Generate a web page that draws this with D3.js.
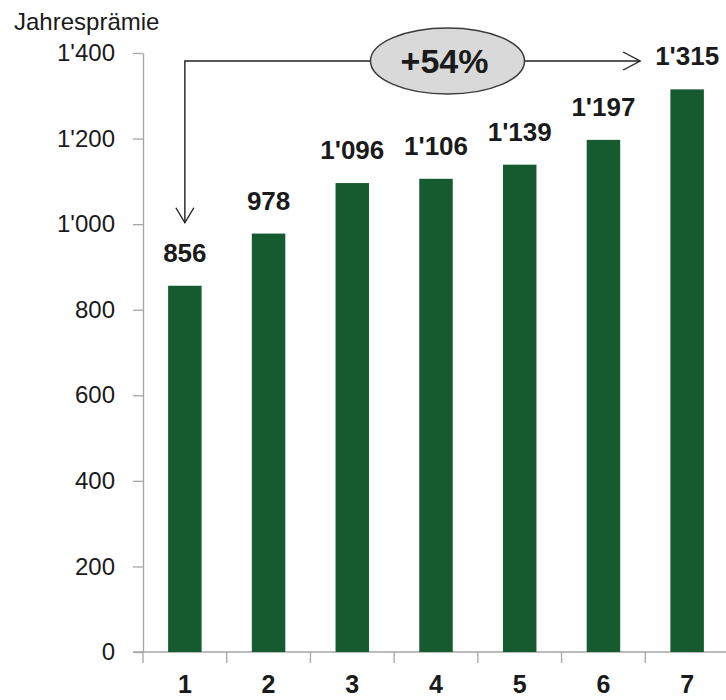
<!DOCTYPE html>
<html>
<head>
<meta charset="utf-8">
<script src="https://cdn.jsdelivr.net/npm/d3@7"></script>
<style>
  html, body { margin: 0; padding: 0; background: #fff; }
  svg { display: block; font-family: "Liberation Sans", Arial, sans-serif; }
</style>
</head>
<body>
<svg id="chart" width="726" height="700"></svg>
<script>
// Annual premium per year index
const categories = ["1", "2", "3", "4", "5", "6", "7"];
const premiums = [856, 978, 1096, 1106, 1139, 1197, 1315];
const yTicks = [0, 200, 400, 600, 800, 1000, 1200, 1400];
const yTitle = "Jahresprämie";
const growthLabel = "+54%";

const svg = d3.select("#chart");
const plotLeft = 143, plotRight = 729, plotTop = 53, plotBottom = 652;

const fmt = v => {
  const s = String(v);
  return s.length > 3 ? s.slice(0, -3) + "'" + s.slice(-3) : s;
};

const x = d3.scaleBand().domain(categories).range([plotLeft, plotRight]).padding(0);
const y = d3.scaleLinear().domain([0, 1400]).range([plotBottom, plotTop]);
const axisColor = "#a6a6a6";

// y axis
const yAxis = svg.append("g")
  .attr("transform", `translate(${plotLeft},0)`)
  .call(d3.axisLeft(y).tickValues(yTicks).tickFormat(fmt).tickSize(10).tickSizeOuter(0).tickPadding(18));
yAxis.select(".domain").attr("stroke", axisColor).attr("stroke-width", 1.3);
yAxis.selectAll(".tick line").attr("stroke", axisColor).attr("stroke-width", 1.3);
yAxis.selectAll(".tick text")
  .attr("fill", "#1a1a1a").attr("font-size", 24).attr("font-family", "Liberation Sans, Arial, sans-serif");

// x axis baseline and category separators
const xg = svg.append("g");
xg.append("line")
  .attr("x1", plotLeft - 10).attr("x2", plotRight)
  .attr("y1", y(0)).attr("y2", y(0))
  .attr("stroke", axisColor).attr("stroke-width", 1.3);
xg.selectAll("line.sep")
  .data(categories)
  .join("line")
  .attr("class", "sep")
  .attr("x1", d => x(d)).attr("x2", d => x(d))
  .attr("y1", y(0)).attr("y2", y(0) + 11)
  .attr("stroke", axisColor).attr("stroke-width", 1.3);
xg.selectAll("text")
  .data(categories)
  .join("text")
  .attr("x", d => x(d) + x.bandwidth() / 2)
  .attr("y", y(0) + 41)
  .attr("text-anchor", "middle")
  .attr("font-size", 25).attr("font-weight", "bold").attr("fill", "#1a1a1a")
  .text(d => d);

// bars
const barW = x.bandwidth() * 0.4;
const data = categories.map((c, i) => ({ c, v: premiums[i] }));
svg.append("g").selectAll("rect")
  .data(data)
  .join("rect")
  .attr("x", d => x(d.c) + (x.bandwidth() - barW) / 2)
  .attr("y", d => y(d.v))
  .attr("width", barW)
  .attr("height", d => y(0) - y(d.v))
  .attr("fill", "#165b2f");

// value labels
svg.append("g").selectAll("text")
  .data(data)
  .join("text")
  .attr("x", d => x(d.c) + x.bandwidth() / 2)
  .attr("y", d => y(d.v) - 24)
  .attr("text-anchor", "middle")
  .attr("font-size", 26).attr("font-weight", "bold").attr("fill", "#1a1a1a")
  .text(d => fmt(d.v));

// axis title
svg.append("text")
  .attr("x", 14).attr("y", 30)
  .attr("font-size", 24).attr("fill", "#1a1a1a")
  .text(yTitle);

// growth annotation: bracket arrow from first to last bar
const first = data[0], last = data[data.length - 1];
const cx0 = x(first.c) + x.bandwidth() / 2;
const cx1 = x(last.c) + x.bandwidth() / 2;
const lineY = y(1400) + 8;
const tipY = y(first.v) - 63;
const tipX = cx1 - 47;
const ann = svg.append("g").attr("fill", "none").attr("stroke", "#222").attr("stroke-width", 1.4);
ann.append("path").attr("d", `M${cx0},${tipY}V${lineY}H${tipX}`);
ann.append("path").attr("d", `M${cx0 - 9},${tipY - 15}L${cx0},${tipY}L${cx0 + 9},${tipY - 15}`);
ann.append("path").attr("d", `M${tipX - 17},${lineY - 9}L${tipX},${lineY}L${tipX - 17},${lineY + 9}`);

const ex = 447.5;
svg.append("ellipse")
  .attr("cx", ex).attr("cy", lineY)
  .attr("rx", 77).attr("ry", 33)
  .attr("fill", "#d9d9d9").attr("stroke", "#3a3a3a").attr("stroke-width", 1.5);
svg.append("text")
  .attr("x", ex - 3).attr("y", lineY + 12)
  .attr("text-anchor", "middle")
  .attr("font-size", 34).attr("font-weight", "bold").attr("fill", "#1a1a1a")
  .text(growthLabel);
</script>
</body>
</html>
